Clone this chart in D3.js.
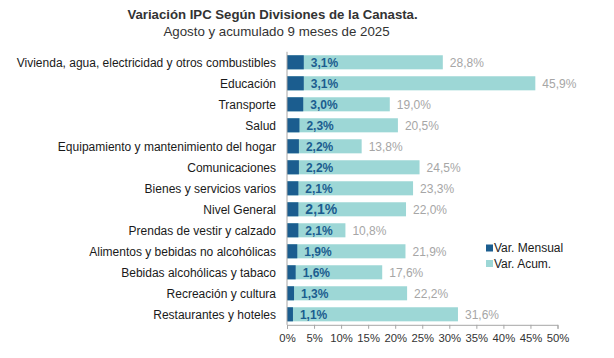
<!DOCTYPE html>
<html><head><meta charset="utf-8">
<script src="https://cdn.jsdelivr.net/npm/d3@7"></script>
<style>body{margin:0;background:#fff;}text{font-family:"Liberation Sans",Arial,sans-serif;}</style>
</head><body>
<svg id="c" width="614" height="358"></svg>
<script>
const categories = ["Vivienda, agua, electricidad y otros combustibles","Educación","Transporte","Salud","Equipamiento y mantenimiento del hogar","Comunicaciones","Bienes y servicios varios","Nivel General","Prendas de vestir y calzado","Alimentos y bebidas no alcohólicas","Bebidas alcohólicas y tabaco","Recreación y cultura","Restaurantes y hoteles"];
const mensual = [3.1,3.1,3.0,2.3,2.2,2.2,2.1,2.1,2.1,1.9,1.6,1.3,1.1];
const acumulado = [28.8,45.9,19.0,20.5,13.8,24.5,23.3,22.0,10.8,21.9,17.6,22.2,31.6];
const xTicks = [0,5,10,15,20,25,30,35,40,45,50];
const seriesNames = ["Var. Mensual","Var. Acum."];

const dark = "#1b5d8f", light = "#9dd7d6";
const svg = d3.select("#c");
const x = d3.scaleLinear().domain([0,50]).range([287,557.5]);
const y = d3.scaleBand().domain(categories).range([51.8,324.8]).paddingInner(0.33).paddingOuter(0.165);
const fmt = v => v.toFixed(1).replace(".", ",") + "%";

svg.append("text").attr("x",272.5).attr("y",18.5).attr("text-anchor","middle").attr("font-size",13.2).attr("font-weight","bold").attr("fill","#333").text("Variación IPC Según Divisiones de la Canasta.");
svg.append("text").attr("x",276.5).attr("y",36).attr("text-anchor","middle").attr("font-size",13.3).attr("fill","#333").text("Agosto y acumulado 9 meses de 2025");

const g = svg.append("g");
categories.forEach((c,i)=>{
  const yy = y(c), h = y.bandwidth();
  g.append("rect").attr("x",x(0)).attr("y",yy).attr("width",x(acumulado[i])-x(0)).attr("height",h).attr("fill",light);
  g.append("rect").attr("x",x(0)).attr("y",yy).attr("width",x(mensual[i])-x(0)).attr("height",h).attr("fill",dark);
  const big = c==="Nivel General";
  g.append("text").attr("x",x(mensual[i])+7).attr("y",yy+h/2).attr("dy","0.36em").attr("font-size",big?14:12).attr("font-weight","bold").attr("fill",dark).text(fmt(mensual[i]));
  g.append("text").attr("x",x(acumulado[i])+7).attr("y",yy+h/2).attr("dy","0.36em").attr("font-size",12).attr("fill","#a6a6a6").text(fmt(acumulado[i]));
  g.append("text").attr("x",276).attr("y",yy+h/2).attr("dy","0.36em").attr("text-anchor","end").attr("font-size",12).attr("fill","#1a1a1a").text(c);
});

// axes
svg.append("line").attr("x1",x(0)).attr("x2",x(0)).attr("y1",51.8).attr("y2",324.8).attr("stroke","#a6a6a6");
const ax = svg.append("g").attr("transform","translate(0,324.8)")
  .call(d3.axisBottom(x).tickValues(xTicks).tickSize(4).tickFormat(d=>d+"%"));
ax.select(".domain").attr("stroke","#a6a6a6");
ax.selectAll(".tick line").attr("stroke","#a6a6a6");
ax.selectAll(".tick text").attr("font-size",11.3).attr("fill","#333").attr("font-family","Liberation Sans, Arial, sans-serif").attr("y",9);

// legend
const leg = svg.append("g");
[dark,light].forEach((col,i)=>{
  leg.append("rect").attr("x",486).attr("y",244.5+i*15.5).attr("width",7).attr("height",7).attr("fill",col);
  leg.append("text").attr("x",494).attr("y",248+i*15.5).attr("dy","0.36em").attr("font-size",12).attr("fill","#1a1a1a").text(seriesNames[i]);
});
</script>
</body></html>
